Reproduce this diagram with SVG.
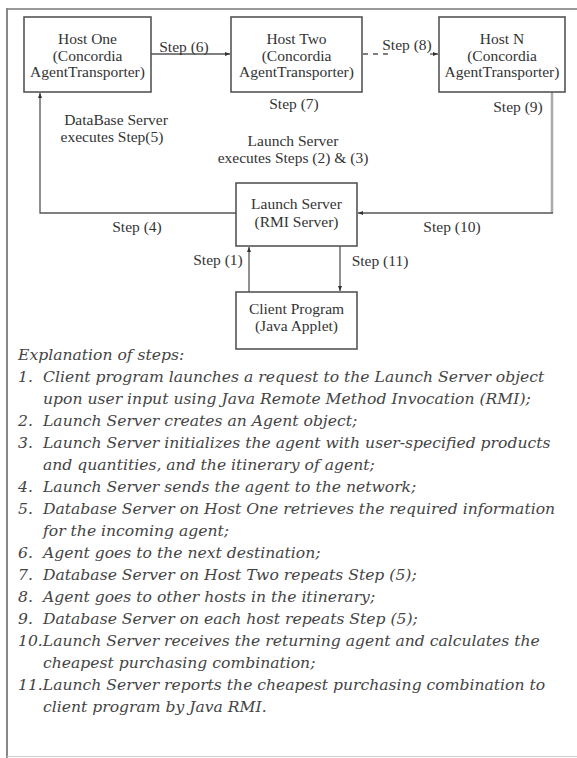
<svg xmlns="http://www.w3.org/2000/svg" width="577" height="758" viewBox="0 0 577 758">
<defs>
<marker id="ah" viewBox="0 0 10 10" refX="10" refY="5" markerWidth="5" markerHeight="5" orient="auto" markerUnits="userSpaceOnUse">
<path d="M0,1 L10,5 L0,9 Z" fill="#333"/>
</marker>
<style>
.box{fill:#fff;stroke:#555;stroke-width:1.6}
.lbl{font-family:"Liberation Serif","Times New Roman",serif;font-size:15.5px;fill:#333;text-anchor:middle}
.con{fill:none;stroke:#555;stroke-width:1.3}
.exp{font-family:"DejaVu Serif",serif;font-style:italic;font-size:15.6px;fill:#444}
</style>
</defs>
<rect width="577" height="758" fill="#fff"/>
<g id="frame">
<line x1="7" y1="9" x2="577" y2="9" stroke="#999" stroke-width="2"/>
<line x1="7" y1="8" x2="7" y2="758" stroke="#888" stroke-width="2"/>
<line x1="7" y1="756.5" x2="577" y2="756.5" stroke="#ccc" stroke-width="1"/>
</g>
<g id="connectors">
<path class="con" d="M151,54 H230" marker-end="url(#ah)"/>
<path class="con" d="M363,54 H388" stroke-dasharray="5,5" stroke="#888"/>
<path class="con" d="M430,54 H438" marker-end="url(#ah)"/>
<path class="con" d="M236,213 H40 V93" marker-end="url(#ah)"/>
<path d="M552,92 V213" fill="none" stroke="#aaa" stroke-width="2.5"/>
<path class="con" d="M553,213 H358" marker-end="url(#ah)"/>
<path class="con" d="M249,292 V247" marker-end="url(#ah)"/>
<path class="con" d="M340,246 V291" marker-end="url(#ah)"/>
</g>
<g id="host-one">
<rect class="box" x="24" y="17" width="127" height="75"/>
<text class="lbl" x="87.5" y="44">Host One</text>
<text class="lbl" x="87.5" y="61">(Concordia</text>
<text class="lbl" x="87.5" y="77">AgentTransporter)</text>
</g>
<g id="host-two">
<rect class="box" x="231" y="17" width="131" height="75"/>
<text class="lbl" x="296.5" y="44">Host Two</text>
<text class="lbl" x="296.5" y="61">(Concordia</text>
<text class="lbl" x="296.5" y="77">AgentTransporter)</text>
</g>
<g id="host-n">
<rect class="box" x="439" y="17" width="126" height="75"/>
<text class="lbl" x="502" y="44">Host N</text>
<text class="lbl" x="502" y="61">(Concordia</text>
<text class="lbl" x="502" y="77">AgentTransporter)</text>
</g>
<g id="launch-server">
<rect class="box" x="236" y="183" width="121" height="63"/>
<text class="lbl" x="296.5" y="209">Launch Server</text>
<text class="lbl" x="296.5" y="227">(RMI Server)</text>
</g>
<g id="client-program">
<rect class="box" x="236" y="292" width="121" height="57"/>
<text class="lbl" x="296.5" y="314">Client Program</text>
<text class="lbl" x="296.5" y="331">(Java Applet)</text>
</g>
<g id="labels">
<text class="lbl" x="184" y="52">Step (6)</text>
<text class="lbl" x="407" y="50">Step (8)</text>
<text class="lbl" x="294" y="109">Step (7)</text>
<text class="lbl" x="518" y="112">Step (9)</text>
<text class="lbl" x="116" y="124.5">DataBase Server</text>
<text class="lbl" x="112" y="141.5">executes Step(5)</text>
<text class="lbl" x="293" y="146">Launch Server</text>
<text class="lbl" x="293" y="163">executes Steps (2) &amp; (3)</text>
<text class="lbl" x="137" y="232">Step (4)</text>
<text class="lbl" x="452" y="232">Step (10)</text>
<text class="lbl" x="218" y="265">Step (1)</text>
<text class="lbl" x="380" y="266">Step (11)</text>
</g>
<g id="explanation">
<text class="exp" x="18" y="360">Explanation of steps:</text>
<text class="exp" x="18" y="382">1.</text><text class="exp" x="43" y="382">Client program launches a request to the Launch Server object</text>
<text class="exp" x="43" y="404">upon user input using Java Remote Method Invocation (RMI);</text>
<text class="exp" x="18" y="426">2.</text><text class="exp" x="43" y="426">Launch Server creates an Agent object;</text>
<text class="exp" x="18" y="448">3.</text><text class="exp" x="43" y="448">Launch Server initializes the agent with user-specified products</text>
<text class="exp" x="43" y="470">and quantities, and the itinerary of agent;</text>
<text class="exp" x="18" y="492">4.</text><text class="exp" x="43" y="492">Launch Server sends the agent to the network;</text>
<text class="exp" x="18" y="514">5.</text><text class="exp" x="43" y="514">Database Server on Host One retrieves the required information</text>
<text class="exp" x="43" y="536">for the incoming agent;</text>
<text class="exp" x="18" y="558">6.</text><text class="exp" x="43" y="558">Agent goes to the next destination;</text>
<text class="exp" x="18" y="580">7.</text><text class="exp" x="43" y="580">Database Server on Host Two repeats Step (5);</text>
<text class="exp" x="18" y="602">8.</text><text class="exp" x="43" y="602">Agent goes to other hosts in the itinerary;</text>
<text class="exp" x="18" y="624">9.</text><text class="exp" x="43" y="624">Database Server on each host repeats Step (5);</text>
<text class="exp" x="18" y="646">10.Launch Server receives the returning agent and calculates the</text>
<text class="exp" x="43" y="668">cheapest purchasing combination;</text>
<text class="exp" x="18" y="690">11.Launch Server reports the cheapest purchasing combination to</text>
<text class="exp" x="43" y="712">client program by Java RMI.</text>
</g>
</svg>
